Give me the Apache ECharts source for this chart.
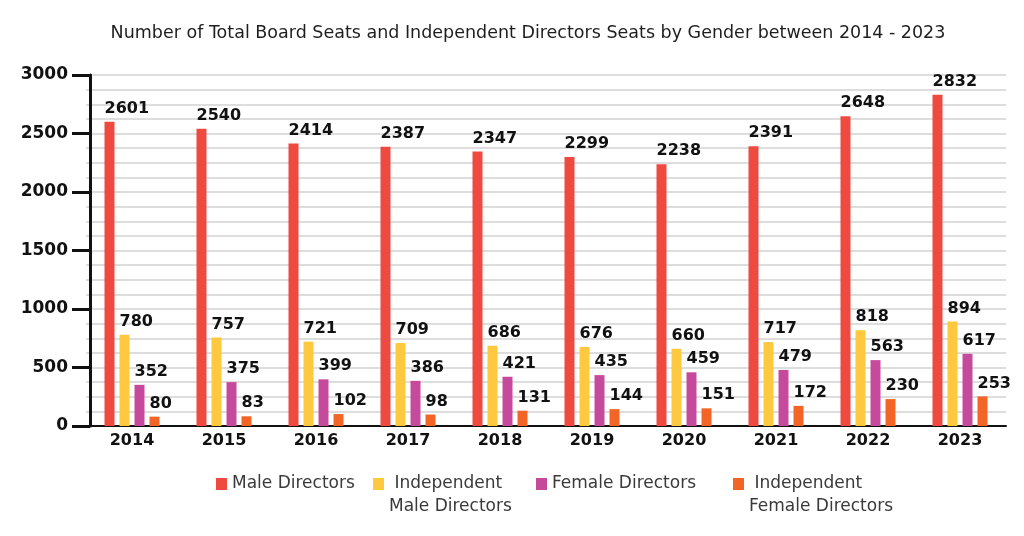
<!DOCTYPE html>
<html>
<head>
<meta charset="utf-8">
<script src="https://cdn.jsdelivr.net/npm/echarts@6/dist/echarts.min.js"></script>
<style>
html,body{margin:0;padding:0;background:#fff;}
#chart{width:1024px;height:536px;}
</style>
</head>
<body>
<div id="chart"></div>
<script>
const years = ['2014','2015','2016','2017','2018','2019','2020','2021','2022','2023'];
const maleDirectors = [2601,2540,2414,2387,2347,2299,2238,2391,2648,2832];
const independentMale = [780,757,721,709,686,676,660,717,818,894];
const femaleDirectors = [352,375,399,386,421,435,459,479,563,617];
const independentFemale = [80,83,102,98,131,144,151,172,230,253];
const seriesNames = ['Male Directors','Independent Male Directors','Female Directors','Independent Female Directors'];
const legendTexts = ['Male Directors',' Independent\nMale Directors','Female Directors',' Independent\nFemale Directors'];
const colors = ['#EE4A40','#FEC83F','#C64A9C','#F26526'];
const yTicks = [0,500,1000,1500,2000,2500,3000];

const FONT = 'DejaVu Sans';
const chart = echarts.init(document.getElementById('chart'), null, {renderer:'canvas'});

const valueLabel = {
  show: true, position: 'top', align: 'left', offset: [-5, 0], distance: 5,
  fontFamily: FONT, fontSize: 16, fontWeight: 'bold', color: '#111'
};
const allData = [maleDirectors, independentMale, femaleDirectors, independentFemale];
const tallIcon = 'path://M0,0H11V12H0Z M0,34.9H0.1V35H0Z';
const legendLefts = [216, 373, 536, 733];
const legends = seriesNames.map((n, i) => {
  const multi = legendTexts[i].indexOf('\n') >= 0;
  return {
    data: [n], left: legendLefts[i], top: 472.5, padding: 0, orient: 'horizontal',
    selectedMode: false,
    icon: multi ? tallIcon : 'rect',
    itemWidth: 11, itemHeight: multi ? 35 : 12,
    formatter: () => legendTexts[i],
    textStyle: {fontFamily: FONT, fontSize: 17, color: '#3a3a3a', lineHeight: 23}
  };
});

chart.setOption({
  animation: false,
  color: colors,
  title: {
    text: 'Number of Total Board Seats and Independent Directors Seats by Gender between 2014 - 2023',
    left: 528, top: 24, padding: 0, textAlign: 'center',
    textStyle: {fontFamily: FONT, fontSize: 17.5, fontWeight: 'normal', color: '#1e1e1e'}
  },
  legend: legends,
  grid: {left: 86, right: 18, top: 75, bottom: 110, containLabel: false},
  xAxis: {
    type: 'category', data: years,
    axisLine: {lineStyle: {color: '#111', width: 2}},
    axisTick: {show: false},
    axisLabel: {fontFamily: FONT, fontSize: 16, fontWeight: 'bold', color: '#111', margin: 7}
  },
  yAxis: [
    {
      type: 'value', min: yTicks[0], max: yTicks[yTicks.length-1], interval: 500, offset: -4,
      axisLine: {show: true, lineStyle: {color: '#111', width: 3}},
      axisTick: {show: true, length: 18, lineStyle: {color: '#111', width: 3}},
      axisLabel: {fontFamily: FONT, fontSize: 17, fontWeight: 'bold', color: '#111', margin: 22,
                  formatter: v => String(v)},
      splitLine: {show: false}
    },
    {
      type: 'value', min: 0, max: 3000, interval: 125, position: 'left',
      axisLine: {show: false}, axisTick: {show: false}, axisLabel: {show: false},
      splitLine: {show: true, lineStyle: {color: '#dddddd', width: 2}}
    }
  ],
  series: seriesNames.map((n, i) => ({
    name: n, type: 'bar', yAxisIndex: 0, data: allData[i],
    barWidth: 10, barGap: '50%',
    itemStyle: {color: colors[i]},
    label: valueLabel
  }))
});
</script>
</body>
</html>
